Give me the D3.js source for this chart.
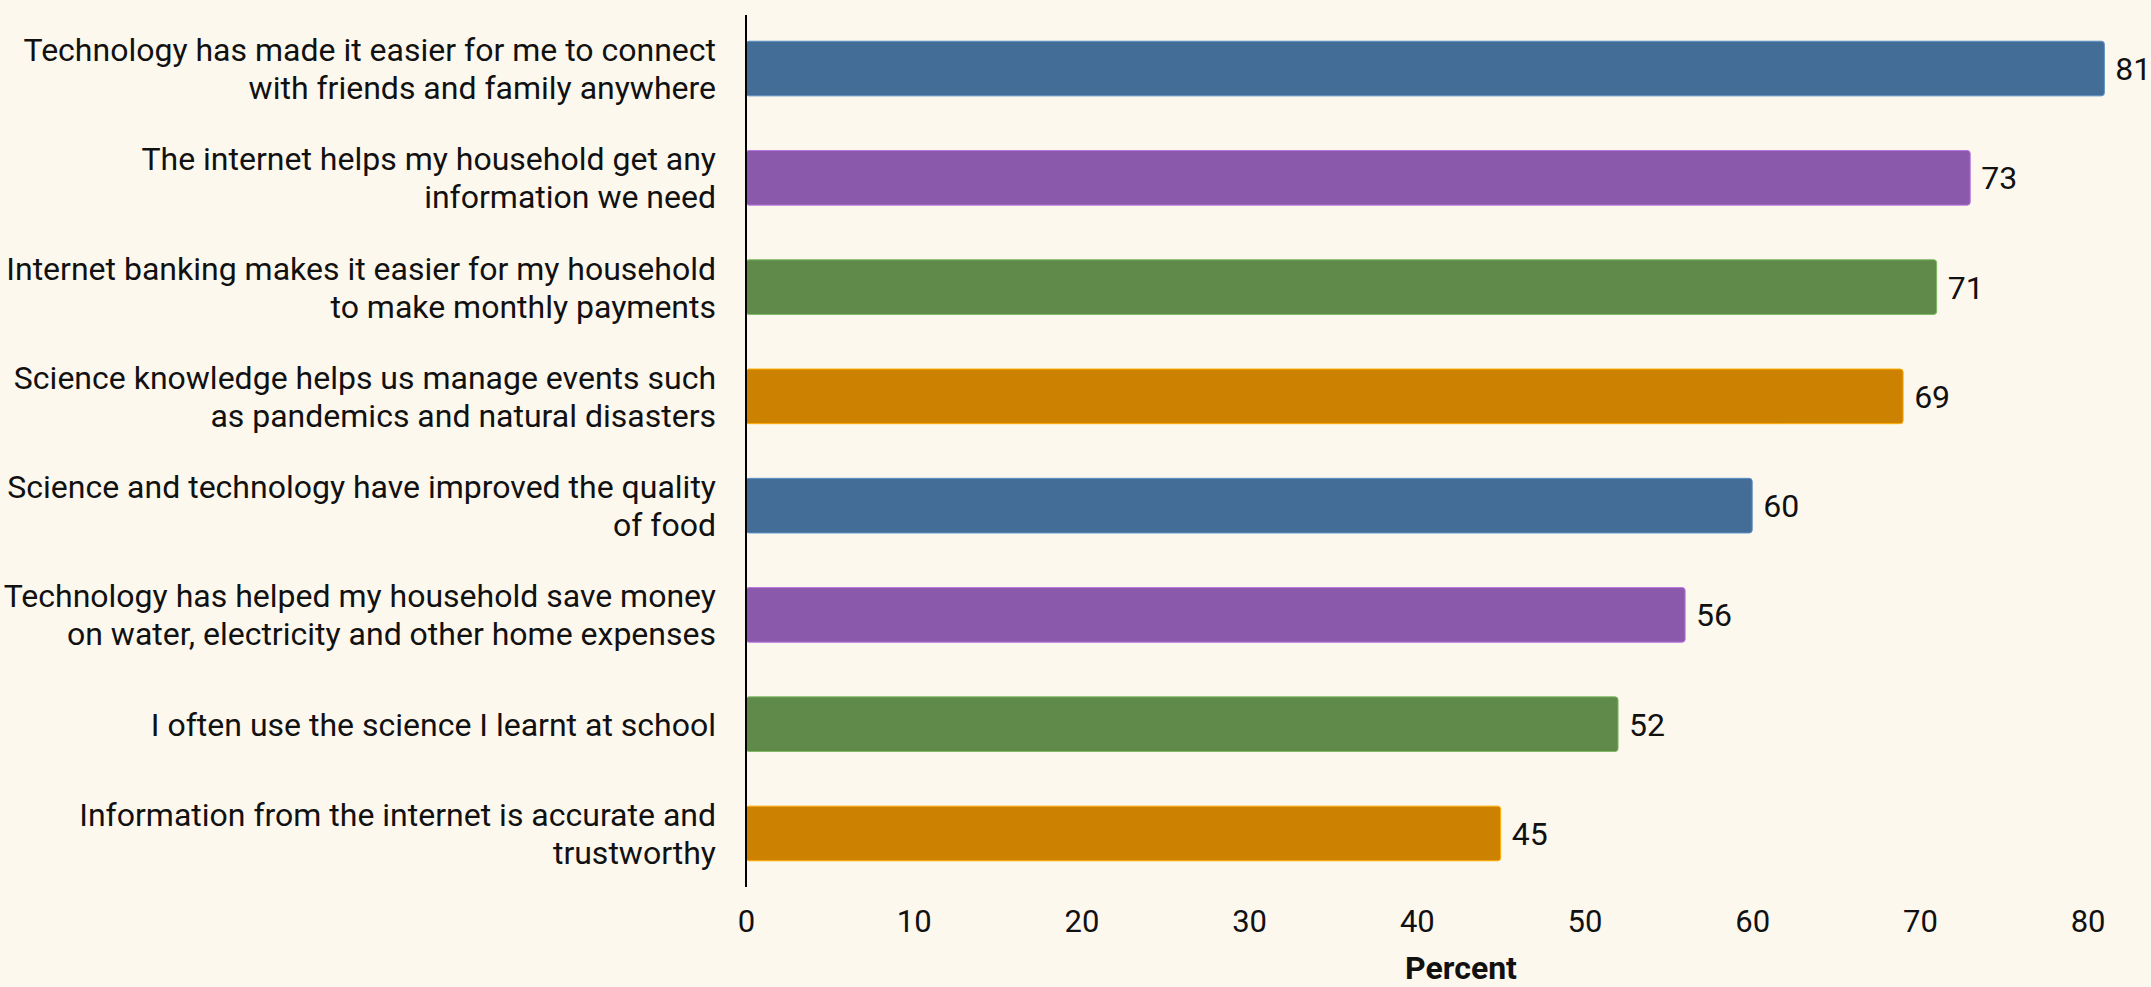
<!DOCTYPE html>
<html>
<head>
<meta charset="utf-8">
<script src="https://cdn.jsdelivr.net/npm/d3@7"></script>
<style>
html,body{margin:0;padding:0;background:#fdf8ee;}
svg{display:block;}
text{font-family:Roboto,"Noto Sans",sans-serif;}
</style>
</head>
<body>
<svg id="chart" width="2151" height="987"></svg>
<script>
const categories = [
  "Technology has made it easier for me to connect\nwith friends and family anywhere",
  "The internet helps my household get any\ninformation we need",
  "Internet banking makes it easier for my household\nto make monthly payments",
  "Science knowledge helps us manage events such\nas pandemics and natural disasters",
  "Science and technology have improved the quality\nof food",
  "Technology has helped my household save money\non water, electricity and other home expenses",
  "I often use the science I learnt at school",
  "Information from the internet is accurate and\ntrustworthy"
];
const values = [81, 73, 71, 69, 60, 56, 52, 45];
const colors = ["#436c96", "#8b59ab", "#5f8a4a", "#cc8200"];
const xTicks = [0, 10, 20, 30, 40, 50, 60, 70, 80];
const xTitle = "Percent";

(function() {
const W = 2151, H = 987;
const mLeft = 746, mRight = 2087.6, mTop = 15, mBottom = 887;
const svg = d3.select("#chart");
svg.append("rect").attr("width", W).attr("height", H).attr("fill", "#fdf8ee");

const x = d3.scaleLinear().domain([0, 80]).range([mLeft, mRight]);
const y = d3.scaleBand().domain(categories).range([mTop, mBottom]).paddingInner(0.5).paddingOuter(0.24);

svg.append("g").selectAll("rect").data(values).join("rect")
  .attr("x", x(0))
  .attr("y", (d, i) => y(categories[i]))
  .attr("width", d => x(d) - x(0))
  .attr("height", y.bandwidth())
  .attr("rx", 3)
  .attr("fill", (d, i) => colors[i % colors.length])
  .attr("stroke", (d, i) => d3.color(colors[i % colors.length]).brighter(0.8))
  .attr("stroke-width", 1);

svg.append("g").selectAll("text").data(values).join("text")
  .attr("x", d => x(d) + 11)
  .attr("y", (d, i) => y(categories[i]) + y.bandwidth() / 2)
  .attr("dy", "0.36em")
  .attr("font-size", 32)
  .attr("fill", "#111")
  .text(d => d);

const fs = 32, lh = 38;
const lbl = svg.append("g").selectAll("text").data(categories).join("text")
  .attr("x", mLeft - 30)
  .attr("text-anchor", "end")
  .attr("font-size", fs)
  .attr("fill", "#111")
  .attr("y", d => y(d) + y.bandwidth() / 2);
lbl.each(function(d) {
  const lines = d.split("\n");
  const t = d3.select(this);
  lines.forEach((ln, k) => {
    t.append("tspan")
      .attr("x", mLeft - 30)
      .attr("dy", k === 0 ? ((-(lines.length - 1) / 2) * lh / fs + 0.36) + "em" : lh + "px")
      .text(ln);
  });
});

svg.append("line")
  .attr("x1", mLeft).attr("x2", mLeft)
  .attr("y1", mTop).attr("y2", mBottom)
  .attr("stroke", "#000").attr("stroke-width", 2);

const xAxis = d3.axisBottom(x).tickValues(xTicks).tickSize(0).tickPadding(0);
const gx = svg.append("g").attr("transform", `translate(0,${mBottom + 23})`).call(xAxis);
gx.select(".domain").remove();
gx.selectAll("text").attr("font-size", 31).attr("fill", "#111")
  .attr("font-family", 'Roboto,"Noto Sans",sans-serif').attr("dy", "0.71em");

svg.append("text")
  .attr("x", 1461).attr("y", 979)
  .attr("text-anchor", "middle")
  .attr("font-size", 32).attr("font-weight", "bold").attr("fill", "#111")
  .text(xTitle);
})();
</script>
</body>
</html>
